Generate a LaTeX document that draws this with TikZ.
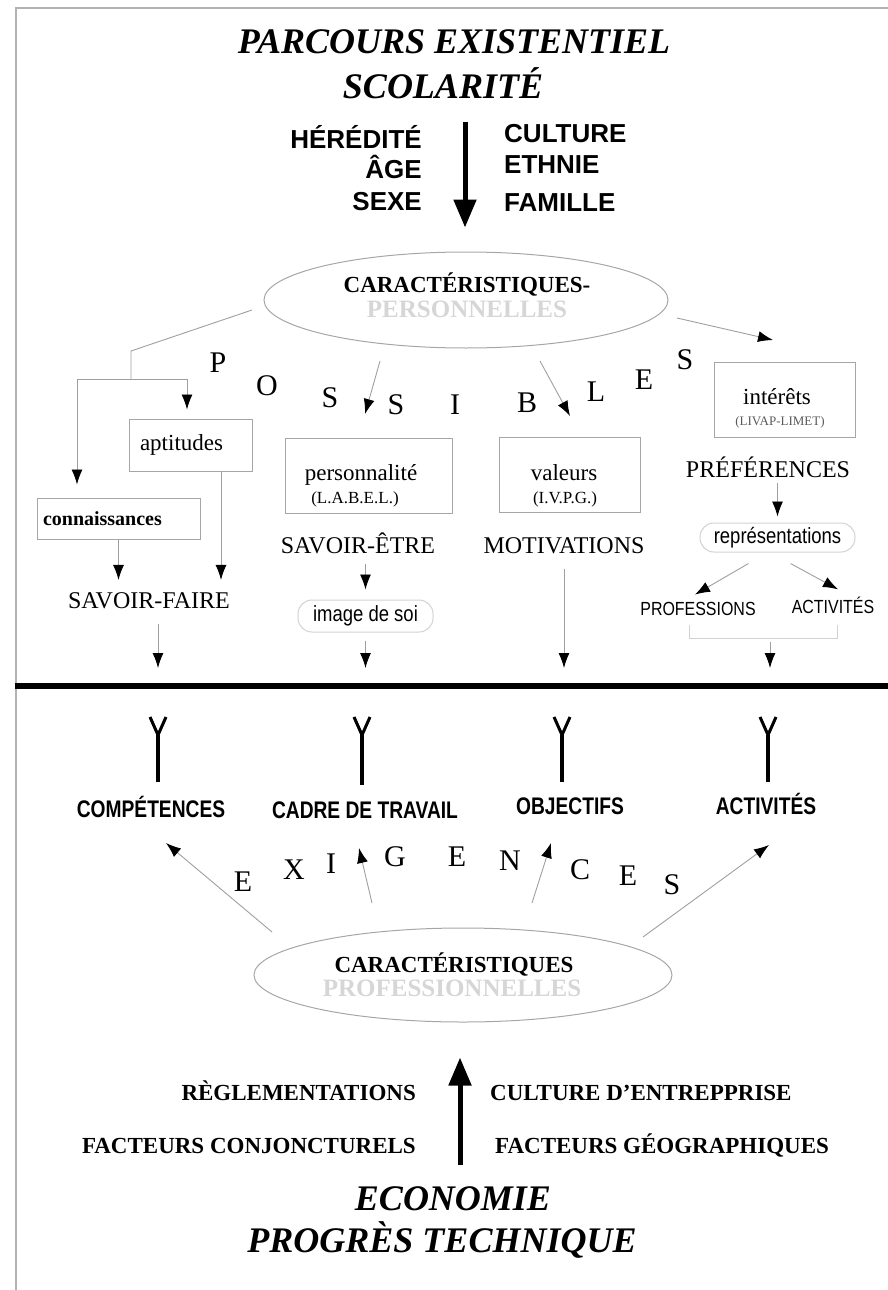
\documentclass[tikz,border=0pt]{standalone}
\usepackage{fontspec}
\setmainfont{Liberation Serif}
\setsansfont{Liberation Sans}
\newfontfamily\narrowsf[FakeStretch=0.84]{Liberation Sans}
\newfontfamily\narrowbf[FakeStretch=0.8]{Liberation Sans Bold}
\usetikzlibrary{shapes.geometric,arrows.meta,positioning}

\begin{document}
\begin{tikzpicture}[
    x=1pt, y=-1pt,
    every node/.style={inner sep=0pt},
    block/.style={draw=gray!70, line width=1pt, minimum height=75pt, font=\fontsize{23}{26}\selectfont},
    pill/.style={draw=gray!35, line width=1pt, rounded corners=14pt, font=\narrowsf\fontsize{22}{24}\selectfont},
    oval/.style={draw=gray!70, line width=1pt, ellipse, minimum width=404pt, minimum height=96pt},
    arrow/.style={draw=gray!75, line width=0.9pt, -{Latex[length=15pt,width=11pt,color=black]}},
    bigarrow/.style={line width=5pt, -{Triangle[length=28pt,width=22pt]}},
    forkarm/.style={line width=3pt},
    stem/.style={line width=3.4pt},
    headline/.style={font=\fontsize{36}{40}\selectfont\bfseries\itshape},
    heavy/.style={font=\sffamily\bfseries\fontsize{26}{28}\selectfont},
    ovaltext/.style={font=\bfseries\fontsize{23}{26}\selectfont},
    ghost/.style={font=\bfseries\fontsize{25}{28}\selectfont, text=gray!32},
    letter/.style={font=\fontsize{30}{32}\selectfont},
    boxtxt/.style={font=\fontsize{23}{26}\selectfont},
    smalltxt/.style={font=\fontsize{17}{19}\selectfont},
    tinytxt/.style={font=\fontsize{13}{15}\selectfont, text=black!65},
    midlbl/.style={font=\fontsize{24}{26}\selectfont},
    narrowlbl/.style={font=\narrowsf\fontsize{19}{21}\selectfont},
    narrowbig/.style={font=\narrowbf\fontsize{24}{26}\selectfont},
    botlbl/.style={font=\bfseries\fontsize{23}{26}\selectfont}
]
    \useasboundingbox (0,0) rectangle (888,1290);
    % Cadre
    \draw[gray!60, line width=2pt] (16,1290) -- (16,8) -- (888,8);

    % Haut
    \node[headline, anchor=base] (parcours) at (454,54) {PARCOURS EXISTENTIEL};
    \node[headline, anchor=base] (scol) at (443,98) {SCOLARITÉ};
    \node[heavy, anchor=base east] (hered) at (422,148) {HÉRÉDITÉ};
    \node[heavy, anchor=base east] (age) at (422,178) {ÂGE};
    \node[heavy, anchor=base east] (sexe) at (422,210) {SEXE};
    \node[heavy, anchor=base west] (culture) at (504,142) {CULTURE};
    \node[heavy, anchor=base west] (ethnie) at (504,173) {ETHNIE};
    \node[heavy, anchor=base west] (famille) at (504,211) {FAMILLE};

    % Ellipse personnelle
    \node[oval] (persell) at (466,300) {};
    \node[ovaltext, anchor=base] (caract) at (467,292) {CARACTÉRISTIQUES-};
    \node[ghost, anchor=base] (perso) at (467,317) {PERSONNELLES};
    \coordinate (topin) at (465,122);
    \draw[bigarrow, shorten >=24pt] (topin) -- (topin |- persell.north);

    % POSSIBLES
    \node[letter] (pP) at (218,363) {P};
    \node[letter] (pO) at (267,386) {O};
    \node[letter] (pS1) at (330,398) {S};
    \node[letter] (pS2) at (396,405) {S};
    \node[letter] (pI) at (455,405) {I};
    \node[letter] (pB) at (527,403) {B};
    \node[letter] (pL) at (596,392) {L};
    \node[letter] (pE) at (644,380) {E};
    \node[letter] (pS3) at (685,360) {S};

    % Boites
    \node[block, minimum width=123pt, minimum height=52pt, text width=101pt, align=left, inner xsep=11pt] (apt) at (190.5,445) {aptitudes};
    \node[block, minimum width=163pt, minimum height=41pt, text width=151pt, align=left, inner xsep=6pt, font=\bfseries\fontsize{20}{22}\selectfont] (conn) at (118.5,518.5) {connaissances};
    \node[block, minimum width=167pt] (persbox) at (368.5,475.5) {};
    \node[boxtxt, anchor=base] (perstxt) at (361,480) {personnalité};
    \node[smalltxt, anchor=base] (labeltxt) at (355,503) {(L.A.B.E.L.)};
    \node[block, minimum width=141pt] (valbox) at (569.5,474.5) {};
    \node[boxtxt, anchor=base] (valtxt) at (564,480) {valeurs};
    \node[smalltxt, anchor=base] (ivpgtxt) at (565,503) {(I.V.P.G.)};
    \node[block, minimum width=141pt] (intbox) at (784.5,399.5) {};
    \node[boxtxt, anchor=base] (inttxt) at (777,404) {intérêts};
    \node[tinytxt, anchor=base] (livaptxt) at (780,425) {(LIVAP-LIMET)};

    % Savoirs
    \node[midlbl, anchor=base] (savfaire) at (149,608) {SAVOIR-FAIRE};
    \node[midlbl, anchor=base] (savetre) at (358,553) {SAVOIR-ÊTRE};
    \node[midlbl, anchor=base] (motiv) at (564,553) {MOTIVATIONS};
    \node[midlbl, anchor=base] (pref) at (768,477) {PRÉFÉRENCES};
    \node[pill, minimum width=135pt, minimum height=32pt] (soi) at (365.5,616) {image de soi};
    \node[pill, minimum width=155pt, minimum height=29pt] (repr) at (777.5,537.5) {représentations};
    \node[narrowlbl, anchor=base] (prof) at (698,615) {PROFESSIONS};
    \node[narrowlbl, anchor=base] (activ) at (833,613) {ACTIVITÉS};

    % Separation
    \coordinate (sepL) at (15,686);
    \coordinate (sepR) at (888,686);
    \draw[line width=6pt] (sepL) -- (sepR);

    % Fleches du haut
    \coordinate (lstart) at (252,310);
    \coordinate (lknee) at (131,351);
    \coordinate (lsplit) at (131,379);
    \coordinate (lleft) at (77,379);
    \coordinate (lright) at (187,379);
    \draw[draw=gray!75, line width=0.9pt] (lstart) -- (lknee) -- (lsplit);
    \draw[arrow, shorten >=13pt] (lsplit) -- (lleft) -- (lleft |- conn.north);
    \draw[arrow, shorten >=9pt] (lsplit) -- (lright) -- (lright |- apt.north);
    \coordinate (p1s) at (380,361);
    \coordinate (p1e) at (365,414);
    \coordinate (p2s) at (540,361);
    \coordinate (p2e) at (570,416);
    \coordinate (p3s) at (677,318);
    \coordinate (p3e) at (773,340);
    \draw[arrow] (p1s) -- (p1e);
    \draw[arrow] (p2s) -- (p2e);
    \draw[arrow] (p3s) -- (p3e);
    \draw[arrow, shorten >=12pt] (conn.south) -- (conn.south |- savfaire.north);
    \draw[arrow, shorten >=12pt] ([xshift=30.5pt]apt.south) -- ([xshift=30.5pt]apt.south |- savfaire.north);
    \draw[arrow, shorten <=15pt, shorten >=18pt] ([xshift=9pt]savfaire.south) -- ([xshift=9pt]savfaire.south |- sepL);
    \draw[arrow, shorten <=10pt, shorten >=10pt] (savetre.south -| soi.north) -- (soi.north);
    \draw[arrow, shorten <=8pt, shorten >=18pt] (soi.south) -- (soi.south |- sepL);
    \draw[arrow, shorten <=15pt, shorten >=18pt] (motiv.south) -- (motiv.south |- sepL);
    \draw[arrow, shorten <=6pt, shorten >=6pt] (pref.south -| repr.north) -- (repr.north);
    \draw[arrow] ([shift={(-29pt,-11pt)}]repr.south) -- ([shift={(-3pt,7pt)}]prof.north);
    \draw[arrow] ([shift={(13pt,-11pt)}]repr.south) -- ([shift={(5pt,7pt)}]activ.north);
    \coordinate (brkL) at (689,625);
    \coordinate (brkR) at (837,625);
    \draw[gray!35, line width=1pt] (brkL) -- ++(0,13) -| (brkR);
    \coordinate (brkM) at (770,642);
    \draw[arrow, shorten >=18pt] (brkM) -- (brkM |- sepL);

    % Exigences
    \node[narrowbig, anchor=base] (compet) at (151,817) {COMPÉTENCES};
    \node[narrowbig, anchor=base] (cadre) at (365,818) {CADRE DE TRAVAIL};
    \node[narrowbig, anchor=base] (object) at (570,814) {OBJECTIFS};
    \node[narrowbig, anchor=base] (activ2) at (766,814) {ACTIVITÉS};
    \coordinate (fk1) at (158,735);
    \coordinate (fk2) at (362,735);
    \coordinate (fk3) at (562,735);
    \coordinate (fk4) at (768,735);
    \draw[forkarm] (fk1) ++(-8,-18) -- (fk1) -- ++(8,-18);
    \draw[forkarm] (fk2) ++(-8,-18) -- (fk2) -- ++(8,-18);
    \draw[forkarm] (fk3) ++(-8,-18) -- (fk3) -- ++(8,-18);
    \draw[forkarm] (fk4) ++(-8,-18) -- (fk4) -- ++(8,-18);
    \draw[stem] (fk1) -- ++(0,47);
    \draw[stem] (fk2) -- ++(0,50);
    \draw[stem] (fk3) -- ++(0,47);
    \draw[stem] (fk4) -- ++(0,47);

    \node[letter] (xE1) at (243,882) {E};
    \node[letter] (xX) at (294,870) {X};
    \node[letter] (xI) at (331,864) {I};
    \node[letter] (xG) at (395,857) {G};
    \node[letter] (xE2) at (457,857) {E};
    \node[letter] (xN) at (510,861) {N};
    \node[letter] (xC) at (580,870) {C};
    \node[letter] (xE3) at (628,876) {E};
    \node[letter] (xS) at (672,885) {S};

    % Ellipse professionnelle
    \node[oval, minimum width=418pt, minimum height=94pt] (proell) at (463,975) {};
    \node[ovaltext, anchor=base] (caract2) at (454,972) {CARACTÉRISTIQUES};
    \node[ghost, anchor=base] (profess) at (452,996) {PROFESSIONNELLES};
    \coordinate (e1s) at (272,932);
    \coordinate (e1e) at (166,843);
    \coordinate (e2s) at (372,903);
    \coordinate (e2e) at (359,848);
    \coordinate (e3s) at (532,903);
    \coordinate (e3e) at (551,843);
    \coordinate (e4s) at (643,937);
    \coordinate (e4e) at (769,845);
    \draw[arrow] (e1s) -- (e1e);
    \draw[arrow] (e2s) -- (e2e);
    \draw[arrow] (e3s) -- (e3e);
    \draw[arrow] (e4s) -- (e4e);

    % Bas
    \coordinate (botin) at (460,1165);
    \draw[bigarrow, shorten >=35pt] (botin) -- (botin |- proell.south);
    \node[botlbl, anchor=base east] (regl) at (416,1100) {RÈGLEMENTATIONS};
    \node[botlbl, anchor=base east] (conj) at (416,1153) {FACTEURS CONJONCTURELS};
    \node[botlbl, anchor=base west] (centr) at (490,1100) {CULTURE D’ENTREPPRISE};
    \node[botlbl, anchor=base west] (geo) at (495,1153) {FACTEURS GÉOGRAPHIQUES};
    \node[headline, anchor=base] (eco) at (453,1210) {ECONOMIE};
    \node[headline, anchor=base] (progres) at (442,1252) {PROGRÈS TECHNIQUE};

\end{tikzpicture}
\end{document}
